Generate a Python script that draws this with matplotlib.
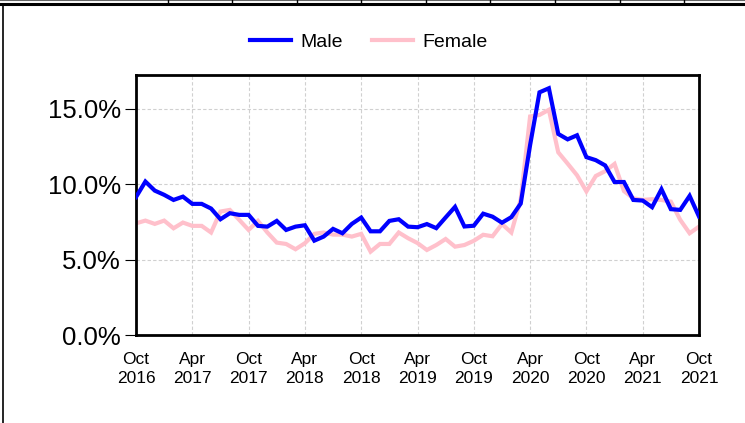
import matplotlib
matplotlib.use("Agg")
import matplotlib.pyplot as plt
from matplotlib.lines import Line2D
import numpy as np
import pandas as pd

plt.rcParams['font.family'] = ['Liberation Sans', 'DejaVu Sans']

start_month = "2016-10"
n_months = 61
male = [9.15, 10.18, 9.58, 9.30, 8.96, 9.18, 8.70, 8.70, 8.39, 7.68,
        8.08, 7.97, 7.97, 7.24, 7.19, 7.57, 6.97, 7.19, 7.28, 6.26,
        6.53, 7.04, 6.75, 7.37, 7.79, 6.88, 6.88, 7.57, 7.68, 7.19,
        7.15, 7.36, 7.09, 7.80, 8.50, 7.20, 7.25, 8.05, 7.85, 7.45,
        7.82, 8.72, 12.6, 16.1, 16.37, 13.34, 12.98, 13.25, 11.8, 11.6,
        11.25, 10.15, 10.15, 8.96, 8.92, 8.48, 9.67, 8.35, 8.30, 9.23, 7.86]
female = [7.41, 7.59, 7.37, 7.59, 7.08, 7.46, 7.24, 7.24, 6.80, 8.19,
          8.30, 7.64, 6.97, 7.57, 6.80, 6.13, 6.04, 5.69, 6.09, 6.71,
          6.80, 6.66, 6.66, 6.53, 6.71, 5.53, 6.04, 6.04, 6.80, 6.42,
          6.10, 5.64, 5.97, 6.37, 5.86, 5.97, 6.25, 6.65, 6.55, 7.36,
          6.80, 9.00, 14.5, 14.6, 14.94, 12.12, 11.37, 10.6, 9.53, 10.55,
          10.87, 11.35, 9.55, 9.07, 8.96, 9.01, 8.96, 8.85, 7.64, 6.75, 7.19]
y_ticks = [0, 5, 10, 15]
y_labels = ["0.0%", "5.0%", "10.0%", "15.0%"]
x_tick_labels = ["Oct\n2016", "Apr\n2017", "Oct\n2017", "Apr\n2018", "Oct\n2018",
                 "Apr\n2019", "Oct\n2019", "Apr\n2020", "Oct\n2020", "Apr\n2021", "Oct\n2021"]

dates = pd.date_range(start_month, periods=n_months, freq="MS")
x = np.arange(n_months)

fig = plt.figure(figsize=(7.45, 4.23), dpi=100)
ax = fig.add_axes([136/745, 88/423, (699-136)/745, (335-75)/423])

ax.plot(x, male, color="#0000FF", lw=3.0, label="Male", solid_joinstyle="miter", zorder=3)
ax.plot(x, female, color="#FFC0CB", lw=3.0, label="Female", solid_joinstyle="miter", zorder=2)

ax.set_xlim(0, n_months - 1)
ax.set_ylim(0, 17.25)
ax.set_yticks(y_ticks)
ax.set_yticklabels(y_labels, fontsize=18.5)
ax.set_xticks(np.arange(0, n_months, 6))
ax.set_xticklabels(x_tick_labels, fontsize=12.5, linespacing=1.35)
ax.tick_params(axis="x", length=0, pad=12)
ax.tick_params(axis="y", length=8, width=0.8, pad=3)
ax.grid(True, color="#d0d0d0", linestyle=(0, (3, 2)), linewidth=0.8)
ax.set_axisbelow(True)
for s in ax.spines.values():
    s.set_linewidth(2.0)
    s.set_color("black")

leg = fig.legend(loc="center", bbox_to_anchor=(369/745, 1 - 42/423), ncol=2, frameon=False,
                 fontsize=14, handlelength=2.1, columnspacing=1.5, handletextpad=0.5)

# surrounding table-like frame
fig.add_artist(Line2D([0, 1], [1 - 4.5/423, 1 - 4.5/423], transform=fig.transFigure, color="black", lw=2.2))
fig.add_artist(Line2D([0, 1], [1 - 0.5/423, 1 - 0.5/423], transform=fig.transFigure, color="#666666", lw=0.8))
fig.add_artist(Line2D([3/745, 3/745], [0, 1 - 4/423], transform=fig.transFigure, color="black", lw=1.2))
for sx in [167.5, 232, 296.5, 361, 425.5, 490, 555, 619.5, 684]:
    fig.add_artist(Line2D([sx/745, sx/745], [1 - 4/423, 1], transform=fig.transFigure, color="black", lw=1.0))

fig.savefig("out.png", dpi=100)
